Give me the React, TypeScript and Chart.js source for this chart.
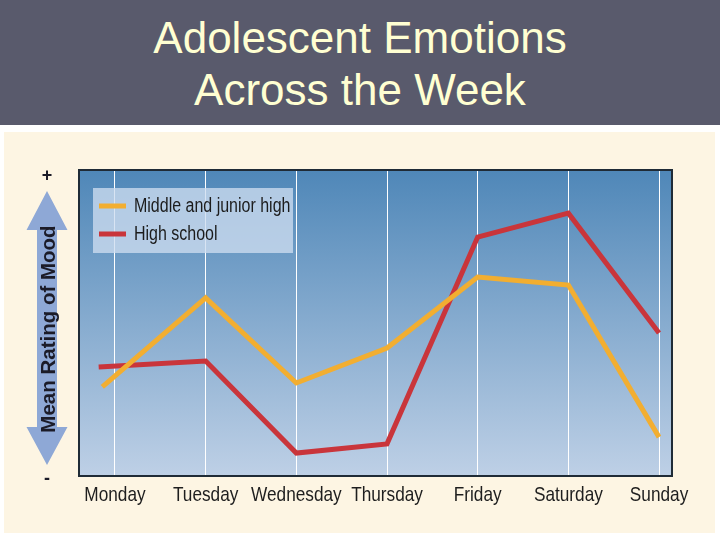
import React, { useEffect, useRef } from "react";
import { Chart, registerables } from "chart.js";

Chart.register(...registerables);

const title = ["Adolescent Emotions", "Across the Week"];
const days = ["Monday", "Tuesday", "Wednesday", "Thursday", "Friday", "Saturday", "Sunday"];
const seriesNames = ["Middle and junior high", "High school"];
const middleX = [-0.14, 1, 2, 3, 4, 5, 6];
const middleMood = [2.91, 5.82, 3.04, 4.18, 6.5, 6.24, 1.27];
const highX = [-0.18, 1, 2, 3, 4, 5, 6];
const highMood = [3.56, 3.76, 0.75, 1.05, 7.81, 8.59, 4.67];
const yAxisLabel = "Mean Rating of Mood";
const yTop = "+";
const yBottom = "-";

const SANS = "'Liberation Sans', Arial, sans-serif";
const NARROW_SCALE = 0.82;

function narrowText(ctx: any, text: string, x: number, y: number, size: number, align: string) {
  ctx.save();
  ctx.translate(x, y);
  ctx.scale(NARROW_SCALE, 1);
  ctx.font = `${size}px ${SANS}`;
  ctx.textAlign = align;
  ctx.textBaseline = "middle";
  ctx.fillText(text, 0, 0);
  ctx.restore();
}

const decorPlugin = {
  id: "decor",
  beforeDraw(chart: any) {
    const { ctx, chartArea: a } = chart;
    ctx.save();
    const g = ctx.createLinearGradient(0, a.top, 0, a.bottom);
    g.addColorStop(0, "#4F87B8");
    g.addColorStop(1, "#BED0E6");
    ctx.fillStyle = g;
    ctx.fillRect(a.left, a.top, a.right - a.left, a.bottom - a.top);
    ctx.restore();
  },
  afterDraw(chart: any) {
    const { ctx, chartArea: a } = chart;
    ctx.save();
    // plot border
    ctx.strokeStyle = "#1f2b36";
    ctx.lineWidth = 2;
    ctx.strokeRect(a.left, a.top, a.right - a.left, a.bottom - a.top);

    // x tick labels (condensed)
    const xs = chart.scales.x;
    ctx.fillStyle = "#1e1e1e";
    xs.ticks.forEach((t: any) => {
      const px = xs.getPixelForValue(t.value);
      narrowText(ctx, days[t.value], px, a.bottom + 19, 21, "center");
    });

    // legend
    const bx = a.left + 14;
    const by = a.top + 18;
    ctx.fillStyle = "rgba(205,220,240,0.78)";
    ctx.fillRect(bx, by, 200, 65);
    const ds = chart.data.datasets;
    ds.forEach((d: any, i: number) => {
      const ly = by + 18 + i * 28;
      ctx.strokeStyle = d.borderColor;
      ctx.lineWidth = 5;
      ctx.lineCap = "butt";
      ctx.beginPath();
      ctx.moveTo(bx + 6, ly);
      ctx.lineTo(bx + 33, ly);
      ctx.stroke();
      ctx.fillStyle = "#1c1c1c";
      narrowText(ctx, d.label, bx + 41, ly + 1, 19.5, "left");
    });

    // double arrow
    const cx = a.left - 32;
    const tipTop = a.top + 21;
    const baseTop = a.top + 60;
    const tipBot = a.bottom - 11;
    const baseBot = a.bottom - 49;
    const hw = 20.5;
    const sw = 10;
    ctx.fillStyle = "#8EA8D6";
    ctx.beginPath();
    ctx.moveTo(cx, tipTop);
    ctx.lineTo(cx + hw, baseTop);
    ctx.lineTo(cx + sw, baseTop);
    ctx.lineTo(cx + sw, baseBot);
    ctx.lineTo(cx + hw, baseBot);
    ctx.lineTo(cx, tipBot);
    ctx.lineTo(cx - hw, baseBot);
    ctx.lineTo(cx - sw, baseBot);
    ctx.lineTo(cx - sw, baseTop);
    ctx.lineTo(cx - hw, baseTop);
    ctx.closePath();
    ctx.fill();

    // rotated label
    ctx.save();
    ctx.translate(cx + 8, (tipTop + tipBot) / 2 + 1);
    ctx.rotate(-Math.PI / 2);
    ctx.fillStyle = "#1b1b28";
    ctx.font = `bold 20.5px ${SANS}`;
    ctx.textAlign = "center";
    ctx.textBaseline = "alphabetic";
    ctx.fillText(yAxisLabel, 0, 0);
    ctx.restore();

    // + and -
    ctx.fillStyle = "#1b1b28";
    ctx.font = `bold 18px ${SANS}`;
    ctx.textAlign = "center";
    ctx.textBaseline = "middle";
    ctx.fillText(yTop, cx, a.top + 6);
    ctx.fillText(yBottom, cx, a.bottom + 3);
    ctx.restore();
  },
};

function MoodChart() {
  const ref = useRef<HTMLCanvasElement | null>(null);
  useEffect(() => {
    if (!ref.current) return;
    const chart = new Chart(ref.current, {
      type: "line",
      data: {
        datasets: [
          {
            label: seriesNames[0],
            data: middleX.map((x, i) => ({ x, y: middleMood[i] })),
            borderColor: "#F2AE31",
            borderWidth: 5,
            pointRadius: 0,
            borderJoinStyle: "miter",
            tension: 0,
          },
          {
            label: seriesNames[1],
            data: highX.map((x, i) => ({ x, y: highMood[i] })),
            borderColor: "#C9353B",
            borderWidth: 5,
            pointRadius: 0,
            borderJoinStyle: "miter",
            tension: 0,
          },
        ],
      },
      options: {
        animation: false,
        responsive: false,
        devicePixelRatio: 1,
        layout: { padding: { left: 75, top: 38, right: 43, bottom: 0 } },
        plugins: {
          legend: { display: false },
          tooltip: { enabled: false },
          title: { display: false },
        },
        scales: {
          x: {
            type: "linear",
            min: -0.397,
            max: 6.143,
            afterBuildTicks: (axis: any) => {
              axis.ticks = days.map((_, i) => ({ value: i }));
            },
            afterFit: (axis: any) => {
              axis.height = 57;
            },
            grid: { color: "#ffffff", lineWidth: 1, drawTicks: false },
            border: { display: false },
            ticks: {
              display: false,
              autoSkip: false,
              callback: (v: any) => days[v] ?? "",
            },
          },
          y: {
            display: false,
            min: 0,
            max: 10,
          },
        },
      },
      plugins: [decorPlugin],
    } as any);
    return () => chart.destroy();
  }, []);
  return <canvas ref={ref} width={711} height={401} style={{ display: "block" }} />;
}

export default function App() {
  return (
    <div style={{ position: "fixed", left: 0, top: 0, width: 720, height: 540, background: "#ffffff", overflow: "hidden" }}>
      <div
        style={{
          position: "absolute",
          left: 0,
          top: 0,
          width: 720,
          height: 125,
          background: "#595A6C",
          color: "#FFFFD2",
          fontFamily: SANS,
          fontSize: 44,
          lineHeight: "52px",
          textAlign: "center",
          paddingTop: 12,
          boxSizing: "border-box",
        }}
      >
        {title.map((t) => (
          <div key={t}>{t}</div>
        ))}
      </div>
      <div style={{ position: "absolute", left: 4, top: 132, width: 711, height: 401, background: "#FDF5E3" }}>
        <MoodChart />
      </div>
    </div>
  );
}
